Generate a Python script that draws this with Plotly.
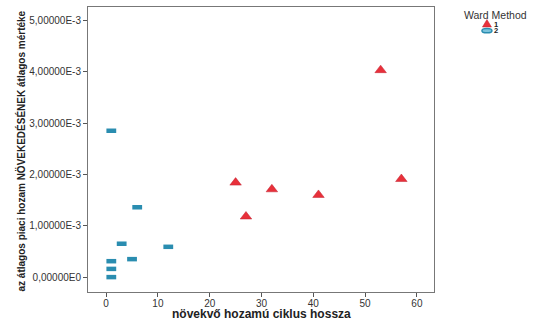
import plotly.graph_objects as go

# Cluster 1 (triangles)
c1_x = [53, 25, 32, 41, 27, 57]
c1_y = [4.03e-3, 1.84e-3, 1.71e-3, 1.60e-3, 1.18e-3, 1.91e-3]
# Cluster 2 (ellipses)
c2_x = [1, 6, 3, 12, 5, 1, 1, 1]
c2_y = [2.85e-3, 1.36e-3, 0.65e-3, 0.59e-3, 0.35e-3, 0.31e-3, 0.16e-3, 0.0]

x_ticks = [0, 10, 20, 30, 40, 50, 60]
y_tickvals = [0, 1e-3, 2e-3, 3e-3, 4e-3, 5e-3]
y_ticktext = ["0,00000E0", "1,00000E-3", "2,00000E-3", "3,00000E-3", "4,00000E-3", "5,00000E-3"]
legend_title = "Ward Method"
cluster_names = ["1", "2"]

FONT = "Liberation Sans, Arial, sans-serif"
RED = "#e8303a"
TEAL = "#2a8db0"

fig = go.Figure()
fig.add_trace(go.Scatter(
    x=c1_x, y=c1_y, mode="markers", name=cluster_names[0], showlegend=False,
    marker=dict(symbol="triangle-up", size=10, color=RED,
                line=dict(color="#c02030", width=0.5)),
))
fig.add_trace(go.Scatter(
    x=c2_x, y=c2_y, mode="markers", name=cluster_names[1], showlegend=False,
    marker=dict(symbol="line-ew", size=7, color=TEAL,
                line=dict(color=TEAL, width=4.5)),
))

axis_common = dict(
    showgrid=False, zeroline=False, showline=True, mirror=True,
    linecolor="#777777", linewidth=1, ticks="outside", ticklen=4,
    tickcolor="#555555", tickfont=dict(family=FONT, size=10, color="#333333"),
    automargin=False,
)

annotations = [
    dict(text="<b>növekvő hozamú ciklus hossza</b>", xref="paper", yref="paper",
         x=0.5, y=0, xanchor="center", yanchor="middle", yshift=-21.5,
         showarrow=False, font=dict(family=FONT, size=12, color="#222222")),
    dict(text="<b>az átlagos piaci hozam NÖVEKEDÉSÉNEK átlagos mértéke</b>",
         xref="paper", yref="paper", x=0, y=0.5, xanchor="center", yanchor="middle",
         xshift=-68, yshift=-2, textangle=-90, showarrow=False,
         font=dict(family=FONT, size=10, color="#222222")),
    # legend
    dict(text=legend_title, xref="paper", yref="paper", x=1.179, y=0.972,
         xanchor="center", yanchor="middle", showarrow=False,
         font=dict(family=FONT, size=10.5, color="#333333")),
    dict(text="<b>" + cluster_names[0] + "</b>", xref="paper", yref="paper", x=1.168, y=0.940,
         xanchor="left", yanchor="middle", showarrow=False,
         font=dict(family=FONT, size=7.5, color="#222222")),
    dict(text="<b>" + cluster_names[1] + "</b>", xref="paper", yref="paper", x=1.168, y=0.917,
         xanchor="left", yanchor="middle", showarrow=False,
         font=dict(family=FONT, size=7.5, color="#222222")),
]

shapes = [
    dict(type="path", xref="paper", yref="paper", xsizemode="pixel", ysizemode="pixel",
         xanchor=1.153, yanchor=0.942, path="M -4.5,-3.5 L 4.5,-3.5 L 0,4 Z",
         fillcolor=RED, line=dict(color="#c02030", width=0.5)),
    dict(type="circle", xref="paper", yref="paper", xsizemode="pixel", ysizemode="pixel",
         xanchor=1.153, yanchor=0.917, x0=-5, x1=5, y0=-2.2, y1=2.2,
         fillcolor="#7cc3dc", line=dict(color=TEAL, width=1.5)),
]

fig.update_layout(
    width=538, height=320,
    margin=dict(l=88, r=104, t=7, b=28),
    paper_bgcolor="white", plot_bgcolor="white",
    font=dict(family=FONT, color="#222222"),
    showlegend=False,
    xaxis=dict(range=[-3.5, 63.3], tickvals=x_ticks, ticklabelstandoff=-2, **axis_common),
    yaxis=dict(range=[-0.29e-3, 5.26e-3], tickvals=y_tickvals, ticktext=y_ticktext,
               **axis_common),
    annotations=annotations,
    shapes=shapes,
)

fig.write_html("out.html")
